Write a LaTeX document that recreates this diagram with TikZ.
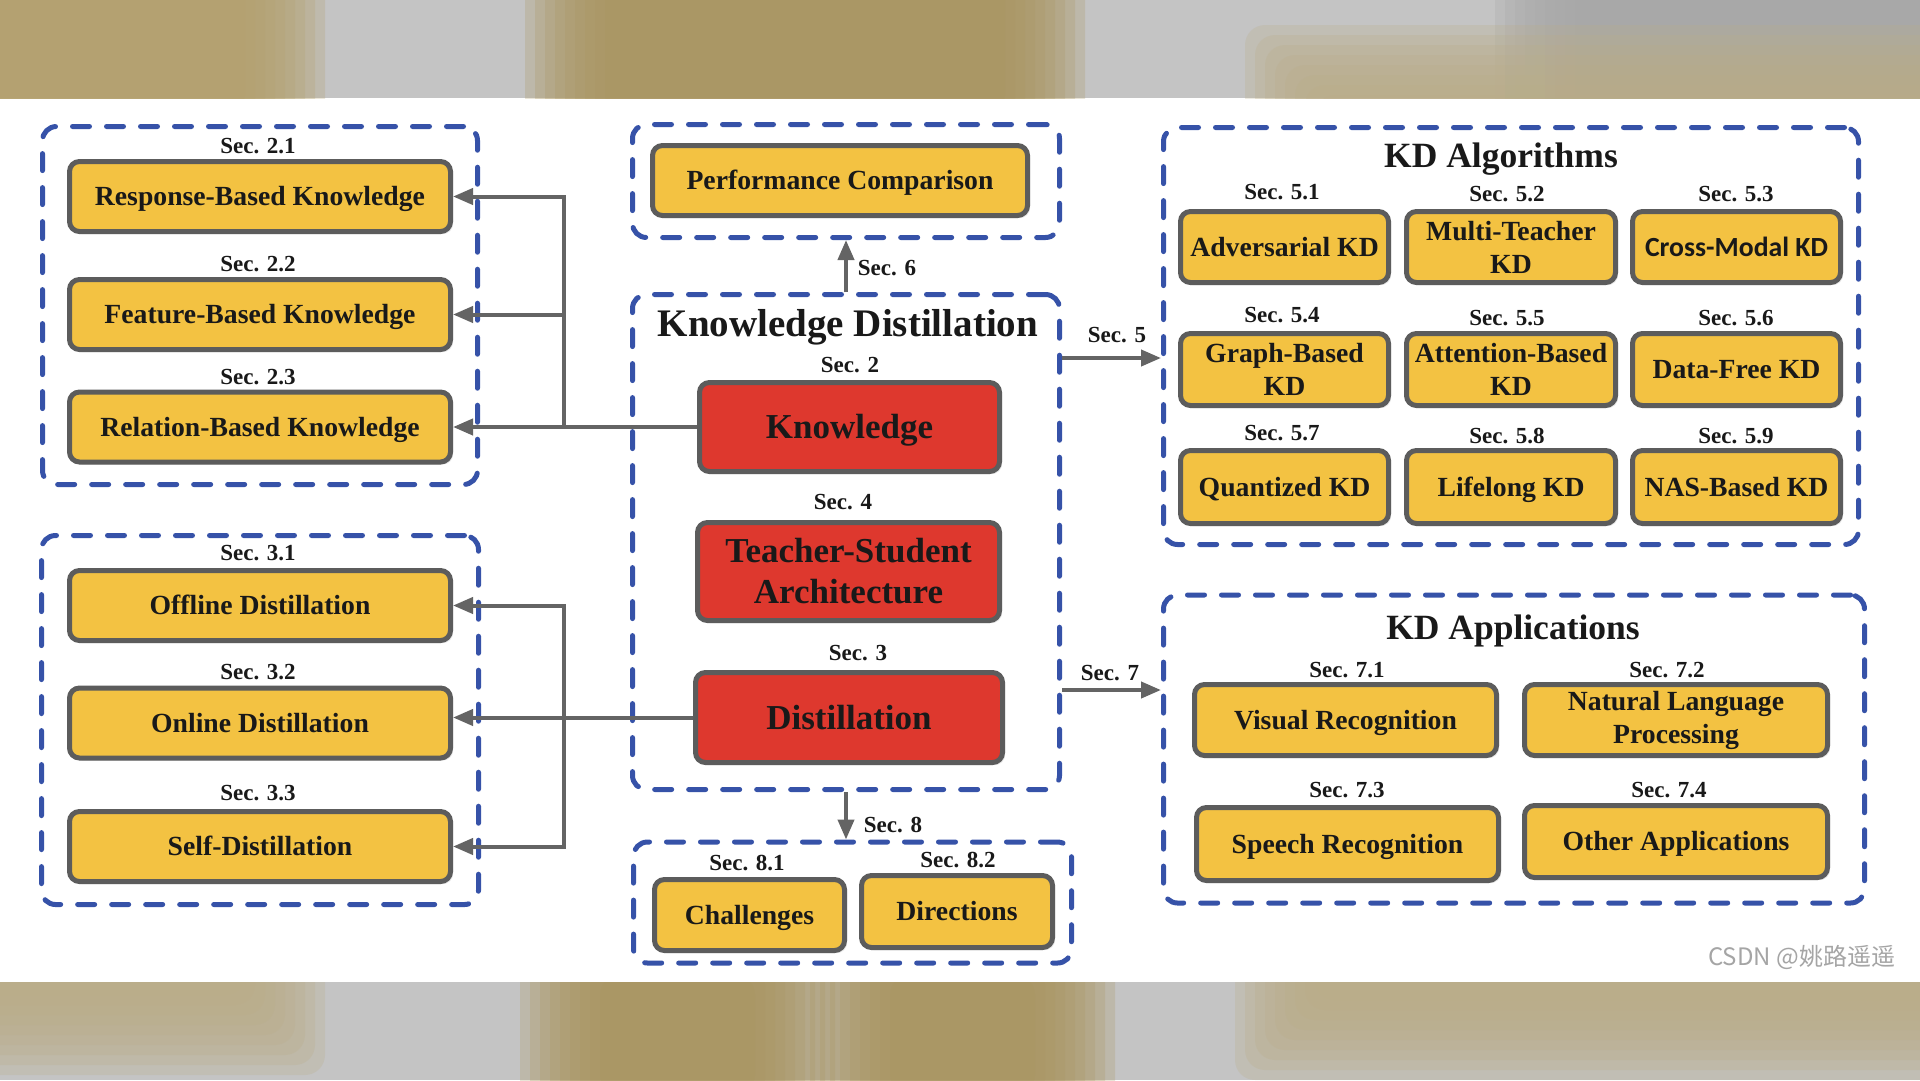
\documentclass[tikz,border=0pt]{standalone}
\usepackage{fontspec}
\setmainfont{Liberation Serif}
\newfontfamily\kdcjk{Noto Sans CJK SC}
\newfontfamily\kdcarl{Carlito}
\usetikzlibrary{arrows.meta,shadows}
\definecolor{kdyellow}{RGB}{243,194,66}
\definecolor{kdred}{RGB}{222,56,46}
\definecolor{boxgray}{RGB}{92,92,92}
\definecolor{conngray}{RGB}{100,100,100}
\definecolor{kdblue}{RGB}{54,82,168}
\definecolor{kdtext}{RGB}{25,25,25}
\definecolor{wmgray}{RGB}{165,165,165}
\definecolor{bandgray}{RGB}{196,196,196}
\definecolor{banddark}{RGB}{168,168,168}
\definecolor{tanA}{RGB}{180,160,108}
\definecolor{tanB}{RGB}{170,150,96}
\definecolor{tanC}{RGB}{186,173,136}
\newcommand\kdboxfont{\bfseries\fontsize{27.7}{33}\selectfont}
\newcommand\kdcarlfont{\kdcarl\bfseries\fontsize{27.7}{33}\selectfont}
\newcommand\kdredfont{\bfseries\fontsize{35}{41}\selectfont}
\newcommand\kdsecfont{\bfseries\fontsize{23}{26}\selectfont}
\newcommand\kdtitlefont{\bfseries\fontsize{35.5}{40}\selectfont}
\newcommand\kdbigtitle{\bfseries\fontsize{39}{44}\selectfont}
\newcommand\kdblob[5]{%
  \foreach \kdi in {0,...,8}{%
    \fill[#5, opacity=0.25, rounded corners=20pt]
      ({#1-45+10*\kdi},{#3-45+10*\kdi}) rectangle ({#2+45-10*\kdi},{#4+45-10*\kdi});}}
\begin{document}
\begin{tikzpicture}[x=1pt,y=-1pt,
  kdbox/.style={draw=boxgray, line width=5pt, rounded corners=10pt, fill=kdyellow,
    text=kdtext, font=\kdboxfont, align=center, inner sep=0pt,
    drop shadow={shadow xshift=2.5pt, shadow yshift=-2.5pt, opacity=0.2}},
  capline/.style={text height=18.6pt, text depth=0pt},
  kdredbox/.style={kdbox, fill=kdred, font=\kdredfont},
  redcap/.style={text height=23.5pt, text depth=0pt},
  sec/.style={font=\kdsecfont, text=kdtext, inner sep=0pt, text height=15.4pt, text depth=0pt},
  ttl/.style={font=\kdtitlefont, text=kdtext, inner sep=0pt, text height=23.8pt, text depth=0pt},
  grp/.style={draw=kdblue, line width=5pt, dash pattern=on 17pt off 17pt, line cap=round,
    rounded corners=14pt, inner sep=0pt},
  conn/.style={draw=conngray, line width=4pt},
  arr/.style={conn, -{Triangle[length=20pt,width=16pt]}},
]
\useasboundingbox (0,0) rectangle (1920,1080);
\fill[white] (0,0) rectangle (1920,1080);
% blurred bands
\fill[bandgray] (0,0) rectangle (1920,98);
\fill[bandgray] (0,982) rectangle (1920,1080);
\begin{scope}
\clip (0,0) rectangle (1920,98);
\kdblob{-100}{280}{-60}{150}{tanA}
\kdblob{570}{1040}{-60}{150}{tanB}
\kdblob{1540}{2010}{-60}{150}{banddark}
\kdblob{1290}{1990}{70}{160}{tanC}
\end{scope}
\begin{scope}
\clip (0,982) rectangle (1920,1080);
\kdblob{-100}{280}{930}{1030}{tanC}
\kdblob{565}{790}{940}{1130}{tanB}
\kdblob{855}{1070}{940}{1130}{tanB}
\kdblob{1280}{2010}{930}{1035}{tanC}
\end{scope}

% group frames
\node[grp, minimum width=435, minimum height=358] (ltframe) at (260,305.5) {};
\node[grp, minimum width=437, minimum height=369] (lbframe) at (260,720) {};
\node[grp, minimum width=427, minimum height=113] (pcframe) at (846,181) {};
\node[grp, minimum width=427, minimum height=495] (kdframe) at (846,542) {};
\node[grp, minimum width=438, minimum height=121] (btframe) at (852.5,902.5) {};
\node[grp, minimum width=695, minimum height=417] (alframe) at (1511,336) {};
\node[grp, minimum width=701, minimum height=308] (apframe) at (1514,749) {};

% left top
\node[sec] (s21) at (258,146) {Sec. 2.1};
\node[kdbox,capline,minimum width=381,minimum height=70] (resp) at (260,196.5) {Response-Based Knowledge};
\node[sec] (s22) at (258,264) {Sec. 2.2};
\node[kdbox,capline,minimum width=381,minimum height=70] (feat) at (260,314.5) {Feature-Based Knowledge};
\node[sec] (s23) at (258,377) {Sec. 2.3};
\node[kdbox,capline,minimum width=381,minimum height=70] (rel) at (260,427) {Relation-Based Knowledge};

% left bottom
\node[sec] (s31) at (258,553) {Sec. 3.1};
\node[kdbox,capline,minimum width=381,minimum height=70] (offl) at (260,605.5) {Offline Distillation};
\node[sec] (s32) at (258,672) {Sec. 3.2};
\node[kdbox,capline,minimum width=381,minimum height=70] (onl) at (260,723) {Online Distillation};
\node[sec] (s33) at (258,793) {Sec. 3.3};
\node[kdbox,capline,minimum width=381,minimum height=70] (selfd) at (260,846.5) {Self-Distillation};

% centre
\node[kdbox,capline,minimum width=375,minimum height=70] (perf) at (840,180.5) {Performance Comparison};
\node[ttl,font=\kdbigtitle,text height=26pt] (kdt) at (848,323) {Knowledge Distillation};
\node[sec] (s2) at (850,365) {Sec. 2};
\node[kdredbox,redcap,minimum width=300,minimum height=89] (know) at (849.5,427) {Knowledge};
\node[sec] (s4) at (843,502) {Sec. 4};
\node[kdredbox,minimum width=302,minimum height=98] (tsa) at (848.5,571.5) {Teacher-Student\\Architecture};
\node[sec] (s3) at (858,653) {Sec. 3};
\node[kdredbox,redcap,minimum width=307,minimum height=90] (dist) at (849,717.5) {Distillation};
\node[sec] (s6) at (887,268) {Sec. 6};
\node[sec] (s8) at (893,825) {Sec. 8};
\node[sec] (s81) at (747,863) {Sec. 8.1};
\node[kdbox,capline,minimum width=190,minimum height=71] (chal) at (749.5,915) {Challenges};
\node[sec] (s82) at (958,860) {Sec. 8.2};
\node[kdbox,capline,minimum width=191,minimum height=72] (dirn) at (957,911.5) {Directions};

% KD algorithms
\node[sec] (s5) at (1117,335) {Sec. 5};
\node[sec] (s7) at (1110,673) {Sec. 7};
\node[ttl] (alt) at (1501,156) {KD Algorithms};
\node[sec] (s51) at (1282,192) {Sec. 5.1};
\node[kdbox,capline,minimum width=208,minimum height=71] (adv) at (1284.5,247) {Adversarial KD};
\node[sec] (s52) at (1507,194) {Sec. 5.2};
\node[kdbox,minimum width=209,minimum height=71] (mt) at (1511,247) {Multi-Teacher\\KD};
\node[sec] (s53) at (1736,194) {Sec. 5.3};
\node[kdbox,capline,font=\kdcarlfont,minimum width=208,minimum height=71] (cm) at (1736.5,247) {Cross-Modal KD};
\node[sec] (s54) at (1282,315) {Sec. 5.4};
\node[kdbox,minimum width=208,minimum height=72] (gb) at (1284.5,369.5) {Graph-Based\\KD};
\node[sec] (s55) at (1507,318) {Sec. 5.5};
\node[kdbox,minimum width=209,minimum height=72] (ab) at (1511,369.5) {Attention-Based\\KD};
\node[sec] (s56) at (1736,318) {Sec. 5.6};
\node[kdbox,capline,minimum width=208,minimum height=72] (df) at (1736.5,369.5) {Data-Free KD};
\node[sec] (s57) at (1282,433) {Sec. 5.7};
\node[kdbox,capline,minimum width=208,minimum height=73] (qk) at (1284.5,487) {Quantized KD};
\node[sec] (s58) at (1507,436) {Sec. 5.8};
\node[kdbox,capline,minimum width=209,minimum height=73] (ll) at (1511,487) {Lifelong KD};
\node[sec] (s59) at (1736,436) {Sec. 5.9};
\node[kdbox,capline,minimum width=208,minimum height=73] (nas) at (1736.5,487) {NAS-Based KD};

% KD applications
\node[ttl] (apt) at (1513,628) {KD Applications};
\node[sec] (s71) at (1347,670) {Sec. 7.1};
\node[kdbox,capline,minimum width=302,minimum height=71] (vis) at (1345.5,720) {Visual Recognition};
\node[sec] (s72) at (1667,670) {Sec. 7.2};
\node[kdbox,minimum width=303,minimum height=71] (nlp) at (1676,720) {Natural Language\\Processing};
\node[sec] (s73) at (1347,790) {Sec. 7.3};
\node[kdbox,capline,minimum width=302,minimum height=73] (sp) at (1347.5,844) {Speech Recognition};
\node[sec] (s74) at (1669,790) {Sec. 7.4};
\node[kdbox,capline,minimum width=303,minimum height=72] (oth) at (1676,841.5) {Other Applications};

% connectors
\coordinate (vk) at (564,427);
\coordinate (vd) at (564,717.5);
\draw[arr] (know.west) -- (rel.east);
\draw[arr] (vk) |- (resp.east);
\draw[arr] (vk) |- (feat.east);
\draw[arr] (dist.west) -- (onl.east |- dist.west);
\draw[arr] (vd) |- (offl.east);
\draw[arr] (vd) |- (selfd.east);
\draw[arr] (kdframe.north) -- (pcframe.south);
\draw[arr] (kdframe.south) -- (kdframe.south |- btframe.north);
\draw[arr] (kdframe.east |- 0,358) -- (alframe.west |- 0,358);
\draw[arr] (kdframe.east |- 0,690) -- (apframe.west |- 0,690);

% watermark
\node[font=\kdcjk\fontsize{24}{26}\selectfont, text=wmgray, anchor=west, inner sep=0pt] (wm) at (1708,957) {CSDN @姚路遥遥};
\end{tikzpicture}
\end{document}
